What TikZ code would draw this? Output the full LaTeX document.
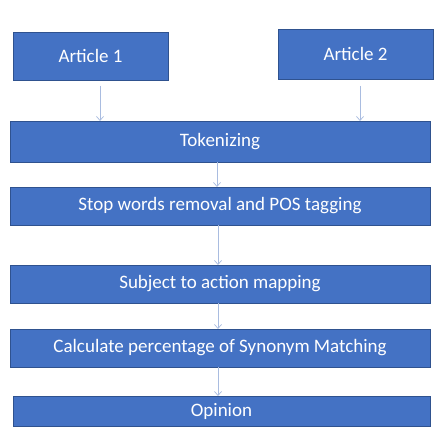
\documentclass[tikz,border=0pt]{standalone}
\usepackage{fontspec}
\setmainfont{Carlito}
\usetikzlibrary{arrows.meta}
\definecolor{boxfill}{HTML}{4472C4}
\definecolor{boxline}{HTML}{2F528F}
\definecolor{arrowc}{HTML}{A9BCE0}
\begin{document}
\begin{tikzpicture}[x=1pt,y=1pt,
  box/.style={draw=boxline,line width=0.8pt,fill=boxfill,text=white,
    font=\fontsize{19}{22}\selectfont,inner sep=0pt,outer sep=0pt,
    minimum width=420pt,minimum height=38pt},
  flow/.style={draw=arrowc,line width=0.7pt,-{Straight Barb[length=4pt,width=7pt]}}]
\useasboundingbox (0,0) rectangle (441,438);
\fill[white] (0,0) rectangle (441,438);
\node[box,minimum width=155pt,minimum height=48pt] (a1) at (90.5,382) {Article 1};
\node[box,minimum width=155pt,minimum height=50pt] (a2) at (355.5,384) {Article 2};
\node[box,minimum height=41pt] (tok) at (220,296.5) {Tokenizing};
\node[box] (stop) at (220,232) {Stop words removal and POS tagging};
\node[box] (subj) at (220,154) {Subject to action mapping};
\node[box] (calc) at (220,90) {Calculate percentage of Synonym Matching};
\node[box,minimum width=417pt,minimum height=30pt] (op) at (221.5,27) {Opinion};
\coordinate (a1s) at (100,352);
\coordinate (a2s) at (360,352);
\draw[flow] (a1s) -- (a1s |- tok.north);
\draw[flow] (a2s) -- (a2s |- tok.north);
\draw[flow] (tok.south -| 217,0) -- (stop.north -| 217,0);
\draw[flow] (stop.south -| 218,0) -- (subj.north -| 218,0);
\draw[flow] (subj.south -| 218,0) -- (calc.north -| 218,0);
\draw[flow] (calc.south -| 218,0) -- (op.north -| 218,0);
\end{tikzpicture}
\end{document}
